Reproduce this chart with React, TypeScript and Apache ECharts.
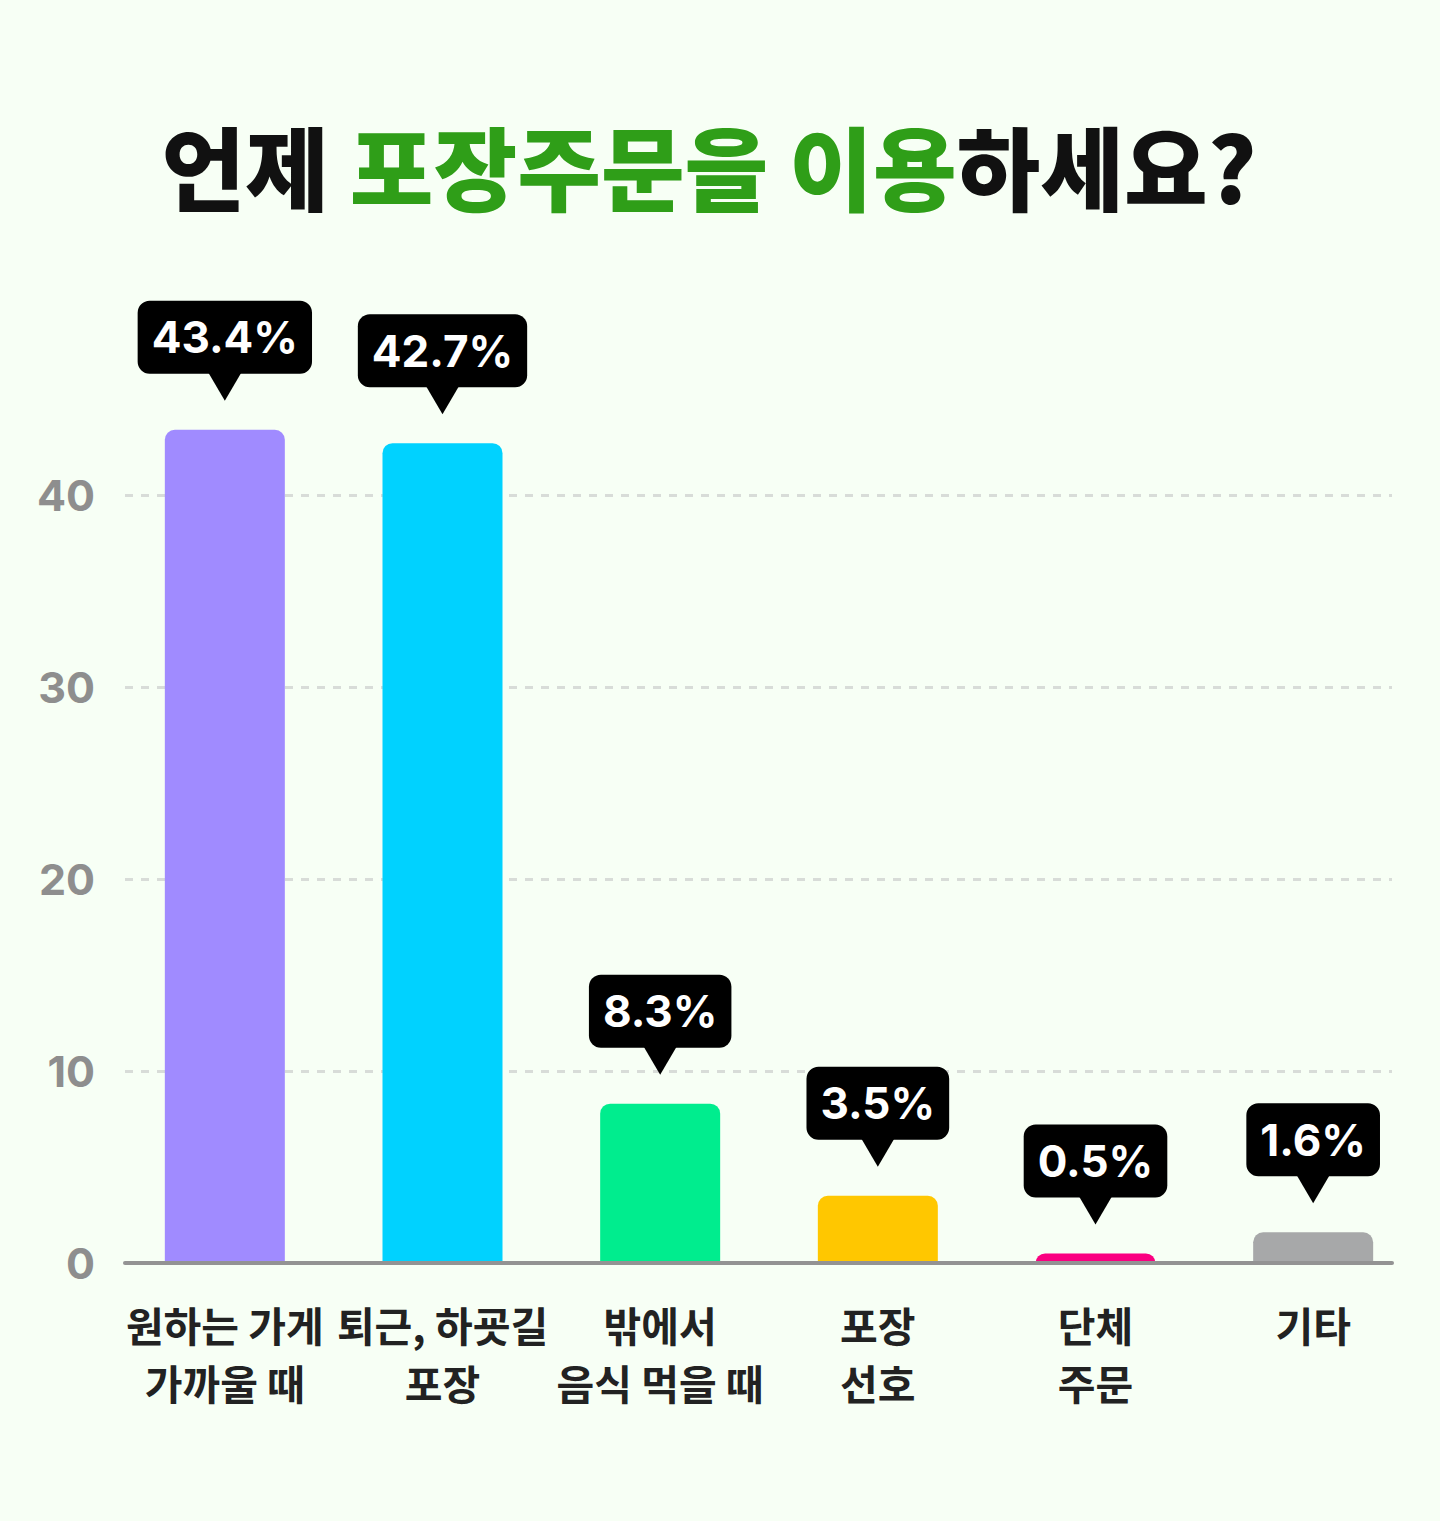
import React, { useEffect, useRef } from "react";
import * as echarts from "echarts";

const categories = [
  "원하는 가게\n가까울 때",
  "퇴근, 하굣길\n포장",
  "밖에서\n음식 먹을 때",
  "포장\n선호",
  "단체\n주문",
  "기타",
];
const values = [43.4, 42.7, 8.3, 3.5, 0.5, 1.6];
const barColors = ["#a08bff", "#00d2ff", "#00ed8e", "#ffc700", "#fa0080", "#a7a8a9"];
const yTicks = [0, 10, 20, 30, 40, 50];

const BG = "#f7fff5";
const KR = "'Noto Sans CJK KR', 'Noto Sans', sans-serif";
const NUM = "Inter, 'Noto Sans', sans-serif";

export default function App() {
  const ref = useRef<HTMLDivElement>(null);
  useEffect(() => {
    document.body.style.margin = "0";
    const chart = echarts.init(ref.current!, undefined, { renderer: "svg" });
    const grid = "#d8dcd8";
    const option: any = {
      animation: false,
      backgroundColor: BG,
      graphic: [
        {
          type: "text",
          x: 709,
          y: 164,
          style: {
            text: "{a|언제 }{b|포장주문을 이용}{a|하세요?}",
            align: "center",
            verticalAlign: "middle",
            rich: {
              a: { fontFamily: KR, fontSize: 91, fontWeight: 900, fill: "#111111" },
              b: { fontFamily: KR, fontSize: 91, fontWeight: 900, fill: "#2f9e18" },
            },
          },
        },
      ],
      grid: [
        { left: 125, right: 48, top: 303, bottom: 258 },
        { left: 116, right: 18, top: 303, bottom: 258 },
      ],
      xAxis: [
        {
          type: "category",
          gridIndex: 0,
          data: categories,
          z: 5,
          axisLine: { show: true, lineStyle: { color: "#939393", width: 4, cap: "round" } },
          axisTick: { show: false },
          axisLabel: { show: false },
          splitLine: { show: false },
        },
        {
          type: "category",
          gridIndex: 1,
          data: categories,
          axisLine: { show: false },
          axisTick: { show: false },
          axisLabel: {
            show: true,
            margin: 32,
            fontFamily: KR,
            fontSize: 41,
            fontWeight: 700,
            lineHeight: 58,
            color: "#222222",
            interval: 0,
          },
        },
      ],
      yAxis: [
        {
          type: "value",
          gridIndex: 0,
          min: yTicks[0],
          max: yTicks[yTicks.length - 1],
          interval: 10,
          axisLine: { show: false },
          axisTick: { show: false },
          axisLabel: {
            margin: 30,
            fontFamily: NUM,
            fontSize: 43,
            fontWeight: 700,
            color: "#8e8e8e",
            formatter: (v: number) => (v === yTicks[yTicks.length - 1] ? "" : String(v)),
          },
          splitLine: {
            show: true,
            lineStyle: {
              color: ["transparent", grid, grid, grid, grid, "transparent"],
              width: 3,
              type: [8, 8],
            },
          },
        },
        {
          type: "value",
          gridIndex: 1,
          min: yTicks[0],
          max: yTicks[yTicks.length - 1],
          interval: 10,
          show: false,
        },
      ],
      series: [
        {
          type: "bar",
          xAxisIndex: 1,
          yAxisIndex: 1,
          barWidth: 120,
          z: 2,
          data: values.map((v, i) => ({
            value: v,
            itemStyle: { color: barColors[i], borderRadius: [10, 10, 0, 0] },
          })),
        },
        {
          type: "custom",
          xAxisIndex: 1,
          yAxisIndex: 1,
          z: 6,
          clip: false,
          data: values.map((v, i) => [i, v]),
          renderItem: (params: any, api: any) => {
            const pt = api.coord([api.value(0), api.value(1)]);
            const x = pt[0];
            const top = pt[1];
            const boxBottom = top - 56;
            return {
              type: "group",
              children: [
                {
                  type: "polygon",
                  shape: {
                    points: [
                      [x - 17, boxBottom - 2],
                      [x + 17, boxBottom - 2],
                      [x, top - 29],
                    ],
                  },
                  style: { fill: "#000000" },
                },
                {
                  type: "text",
                  x: x,
                  y: boxBottom,
                  style: {
                    text: values[params.dataIndex].toFixed(1) + "%",
                    fill: "#ffffff",
                    fontFamily: NUM,
                    fontSize: 44,
                    fontWeight: 700,
                    lineHeight: 49,
                    align: "center",
                    verticalAlign: "bottom",
                    backgroundColor: "#000000",
                    borderRadius: 12,
                    padding: [12, 14, 12, 14],
                  },
                },
              ],
            };
          },
        },
      ],
    };
    chart.setOption(option);
    return () => chart.dispose();
  }, []);
  return <div ref={ref} style={{ width: 1440, height: 1521, background: BG }} />;
}
